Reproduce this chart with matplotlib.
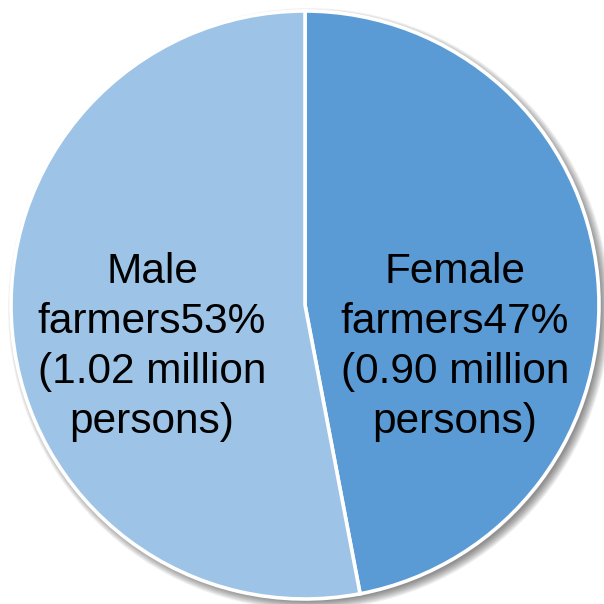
import matplotlib.pyplot as plt
from matplotlib.patches import Circle

plt.rcParams['font.family'] = ['Liberation Sans', 'DejaVu Sans']

groups = ["Female\nfarmers", "Male\nfarmers"]
shares = [47, 53]
persons = [0.90, 1.02]
colors = ["#5B9BD5", "#9DC3E6"]

W = 604
fig = plt.figure(figsize=(6.04, 6.04), dpi=100)
ax = fig.add_axes([0, 0, 1, 1])
ax.set_xlim(0, W)
ax.set_ylim(0, W)
ax.set_aspect("equal")
ax.axis("off")

cx, cy, r = 305, 299, 294

# soft drop shadow toward the lower right
for i in range(12):
    ax.add_patch(Circle((cx + 4, cy - 4), r + 7 - i * 0.8, color="black",
                        alpha=0.045, lw=0, zorder=0))

ax.pie(shares, colors=colors, startangle=90, counterclock=False,
       center=(cx, cy), radius=r, frame=True,
       wedgeprops=dict(edgecolor="white", linewidth=2.6))
ax.set_xlim(0, W)
ax.set_ylim(0, W)
ax.axis("off")

# label placement relative to the pie center (pixels)
offsets = [(150, -42), (-153, -42)]
for g, s, p, (dx, dy) in zip(groups, shares, persons, offsets):
    ax.text(cx + dx, cy + dy, f"{g}{s}%\n({p:.2f} million\npersons)",
            ha="center", va="center", fontsize=30.5, linespacing=1.33,
            color="black", zorder=5)

fig.savefig("out.png", dpi=100)
